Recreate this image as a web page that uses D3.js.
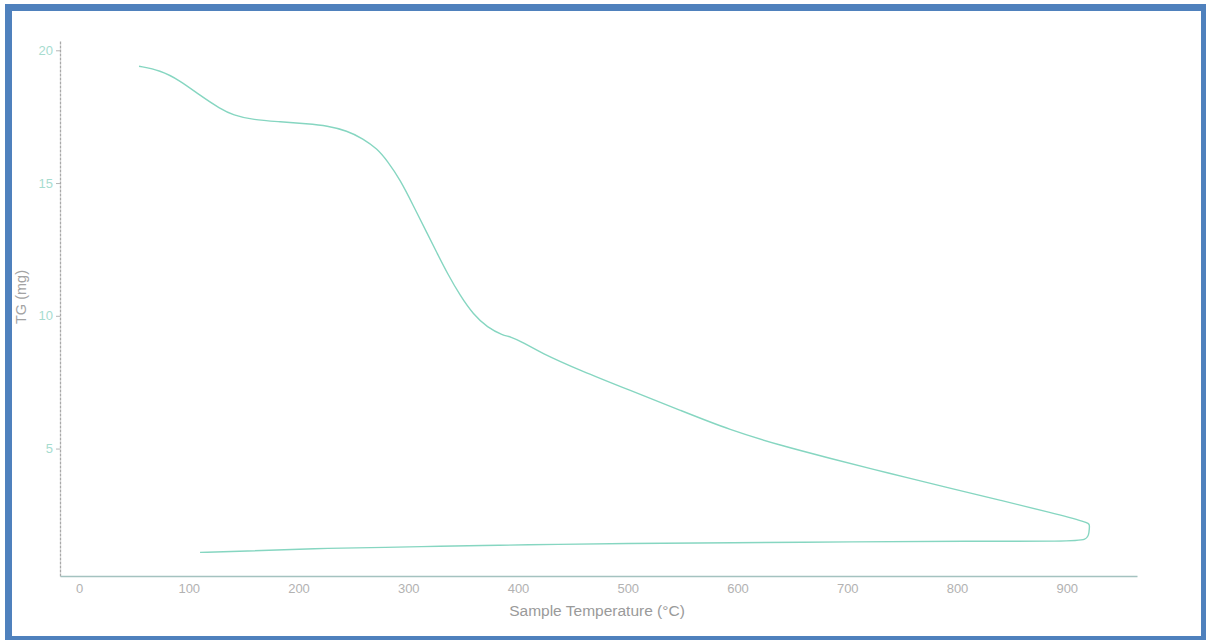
<!DOCTYPE html>
<html>
<head>
<meta charset="utf-8">
<script src="https://cdn.jsdelivr.net/npm/d3@7"></script>
<style>
  html, body { margin: 0; padding: 0; background: #ffffff; }
  svg { display: block; }
</style>
</head>
<body>
<svg id="chart" width="1206" height="640"></svg>
<script>
// TGA run: heating segment followed by the cooling return trace
const temperature = [54.7, 73.9, 92.1, 110.3, 128.6, 140.4, 158.7, 183.3, 207.9, 226.1, 244.3,
  258.9, 271.7, 280.8, 292.7, 304.6, 317.3, 326.4, 335.6, 347.4, 359.3, 372.0, 386.5, 392.9,
  404.7, 420.2, 456.7, 502.3, 547.9, 593.4, 639.0, 684.6, 727.4, 750.0, 794.2, 839.8, 885.4,
  919.1, 921.0, 920.3, 919.1,
  900.9, 809.7, 705.8, 593.6, 493.3, 435.8, 383.8, 326.4, 283.5, 213.4, 149.5, 110.3];
const massMg = [19.40, 19.25, 18.86, 18.30, 17.80, 17.56, 17.38, 17.31, 17.23, 17.16, 16.97,
  16.67, 16.29, 15.84, 15.12, 14.15, 13.10, 12.35, 11.60, 10.75, 10.05, 9.56, 9.26, 9.22,
  9.00, 8.62, 7.94, 7.19, 6.44, 5.69, 5.12, 4.63, 4.18, 3.95, 3.50, 3.05, 2.59,
  2.22, 2.14, 1.85, 1.54,
  1.51, 1.51, 1.49, 1.45, 1.43, 1.39, 1.36, 1.32, 1.28, 1.24, 1.13, 1.09];
const xTicks = [0, 100, 200, 300, 400, 500, 600, 700, 800, 900];
const yTicks = [5, 10, 15, 20];

const svg = d3.select("#chart");
const font = "'Liberation Sans', Arial, sans-serif";

const x = d3.scaleLinear().domain([-17.3, 964]).range([60, 1137]);
const y = d3.scaleLinear().domain([0.2, 20.35]).range([576, 41]);

// outer frame
svg.append("rect")
  .attr("x", 8.5).attr("y", 7.5)
  .attr("width", 1196).attr("height", 632)
  .attr("fill", "none")
  .attr("stroke", "#4f81bd")
  .attr("stroke-width", 7);

// y axis
const yAxis = svg.append("g")
  .attr("transform", "translate(60,0)")
  .call(d3.axisLeft(y).tickValues(yTicks).tickSize(4).tickPadding(3).tickSizeOuter(0));
yAxis.select(".domain").attr("stroke", "#a9a9a9").attr("stroke-width", 1.3)
  .attr("stroke-dasharray", "3,1");
yAxis.selectAll(".tick line").attr("stroke", "#b5b5b5");
yAxis.selectAll(".tick text")
  .attr("fill", "#a6dccf")
  .style("font-family", font)
  .style("font-size", "13px");

// x axis
const xAxis = svg.append("g")
  .attr("transform", "translate(0,576)")
  .call(d3.axisBottom(x).tickValues(xTicks).tickSize(0).tickPadding(8).tickSizeOuter(0));
xAxis.select(".domain").attr("stroke", "#a4c2c0").attr("stroke-width", 1.3);
xAxis.selectAll(".tick text")
  .attr("fill", "#b2b2b2")
  .style("font-family", font)
  .style("font-size", "13px");

// axis titles
svg.append("text")
  .attr("x", 597).attr("y", 616)
  .attr("text-anchor", "middle")
  .attr("fill", "#9a9a9a")
  .style("font-family", font)
  .style("font-size", "15.5px")
  .text("Sample Temperature (°C)");

svg.append("text")
  .attr("transform", "translate(26,297) rotate(-90)")
  .attr("text-anchor", "middle")
  .attr("fill", "#a3a3a3")
  .style("font-family", font)
  .style("font-size", "14.5px")
  .text("TG (mg)");

// TG trace
const pts = temperature.map((t, i) => [t, massMg[i]]);
svg.append("path")
  .datum(pts)
  .attr("fill", "none")
  .attr("stroke", "#86d6c1")
  .attr("stroke-width", 1.4)
  .attr("stroke-linejoin", "round")
  .attr("d", d3.line().x(d => x(d[0])).y(d => y(d[1])).curve(d3.curveBasis));
</script>
</body>
</html>
